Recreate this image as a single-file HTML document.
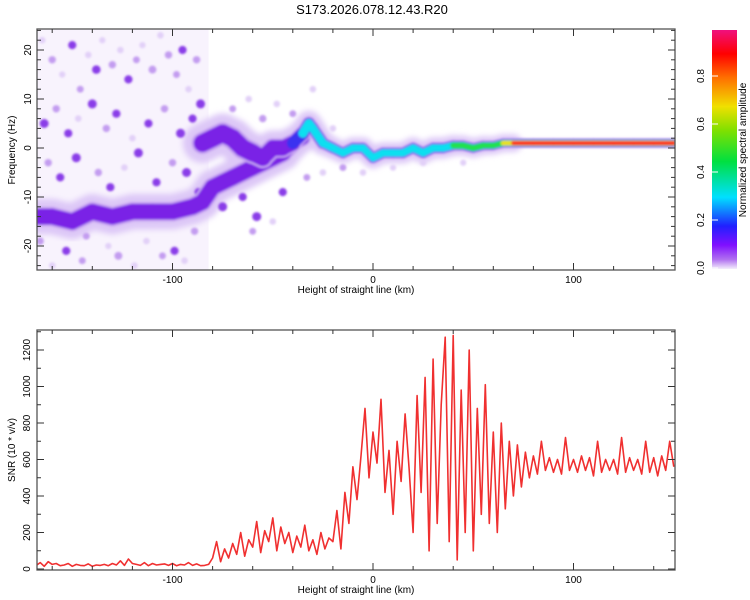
<!DOCTYPE html>
<html><head><meta charset="utf-8"><style>
html,body{margin:0;padding:0;background:#fff;}
svg{display:block;font-family:"Liberation Sans",sans-serif;}
</style></head><body>
<svg id="c" width="750" height="600" viewBox="0 0 750 600">
<defs>
<filter id="bl" x="-20%" y="-20%" width="140%" height="140%"><feGaussianBlur stdDeviation="1.1"/></filter>
<filter id="bl2" x="-20%" y="-20%" width="140%" height="140%"><feGaussianBlur stdDeviation="3"/></filter>
<clipPath id="cp1"><rect x="37" y="29" width="638" height="241"/></clipPath>
<clipPath id="cp2"><rect x="37" y="330" width="638" height="240"/></clipPath>
<linearGradient id="cg" x1="0" y1="1" x2="0" y2="0">
<stop offset="0" stop-color="#f4eefc"/><stop offset="0.04" stop-color="#b070f0"/><stop offset="0.1" stop-color="#8010ff"/>
<stop offset="0.18" stop-color="#2020ff"/><stop offset="0.3" stop-color="#00e0ff"/><stop offset="0.45" stop-color="#00e040"/>
<stop offset="0.58" stop-color="#80e000"/><stop offset="0.68" stop-color="#f0e000"/><stop offset="0.8" stop-color="#ff7000"/>
<stop offset="0.9" stop-color="#ff0000"/><stop offset="1" stop-color="#f0107e"/></linearGradient>
</defs>
<text x="372" y="14" text-anchor="middle" font-size="13">S173.2026.078.12.43.R20</text>
<g id="top"></g>
<g id="bot"></g>
<rect x="712" y="30" width="25" height="239" fill="url(#cg)"/>
<g id="cbl"></g>
<text transform="translate(746,150) rotate(-90)" text-anchor="middle" font-size="10">Normalized spectral amplitude</text>
</svg>
<script>
// ---- data ----
const ridgeKm = [-85,-80,-75,-70,-65,-60,-55,-50,-45,-40,-35,-32,-30,-25,-20,-15,-10,-5,0,5,10,15,20,25,30,35,40,45,50,55,60,65,70,80,90,100,110,120,130,140,150];
const ridgeHz = [1,2,3,2,0,-1,-2,0,0,1,3,5,4,1,0,-1,0,0,-2,-1,-1,-1,0,-1,0,0,0.5,0.5,0,0.5,0.5,1,1,1,1,1,1,1,1,1,1];
const ridgeAmp = [0.28,0.26,0.28,0.27,0.28,0.32,0.28,0.27,0.28,0.32,0.42,0.5,0.55,0.5,0.45,0.5,0.42,0.55,0.42,0.45,0.45,0.4,0.45,0.45,0.5,0.5,0.55,0.55,0.6,0.65,0.6,0.75,0.95,0.95,0.95,0.95,0.95,0.95,0.95,0.95,0.95];
const ridgeSpread = [4.5,4.5,4.5,4.5,4.5,4.5,4,4,4,3.5,3,2.8,2.8,2.6,2.4,2.4,2.4,2.4,2.4,2.4,2.4,2.4,2.4,2.4,2.4,2.4,2.3,2.2,2.2,2.1,2,2,2,2,2,2,2,2,2,2,2];
const lowKm = [-168,-160,-150,-140,-130,-120,-110,-100,-90,-85,-80,-75,-70,-65,-60,-55,-50,-45,-40,-35];
const lowHz = [-14,-14,-15,-13,-14,-13,-13,-13,-12,-11,-8,-7,-6,-5,-4,-3,-2,-1,1,2];
const lowAmp = [0.42,0.28,0.27,0.28,0.28,0.42,0.28,0.27,0.28,0.27,0.28,0.27,0.28,0.27,0.28,0.27,0.28,0.27,0.28,0.3];
const lowSpread = [4,4,4,4,4,4,4,4,4,4,4,4,4,4,4,4,4,4,3.5,3];
const blobKm = [-165,-160,-155,-150,-146,-142,-138,-135,-130,-126,-122,-118,-115,-110,-106,-102,-98,-95,-92,-88,-86,-164,-158,-152,-147,-140,-133,-128,-120,-112,-104,-96,-90,-162,-156,-148,-137,-131,-124,-117,-108,-100,-93,-87,-166,-153,-143,-127,-113,-99,-89,-160,-145,-132,-119,-105,-94,-70,-62,-55,-48,-40,-30,-75,-65,-58,-45,-33,-25,-15,-5,10,25,45,-60,-50,-20];
const blobHz = [22,18,15,21,12,19,16,22,17,20,14,18,21,16,23,19,15,20,12,18,9,5,8,3,6,9,4,7,2,5,8,3,6,-3,-6,-2,-5,-8,-4,-1,-7,-3,-5,-9,-19,-21,-18,-22,-19,-21,-17,-24,-23,-20,-24,-22,-23,8,10,6,9,7,12,-12,-10,-14,-9,-6,-5,-4,-5,-4,-3,-3,-17,-15,4];
const blobAmp = [0.1,0.15,0.08,0.2,0.12,0.1,0.22,0.08,0.15,0.1,0.2,0.12,0.08,0.18,0.1,0.15,0.12,0.2,0.1,0.15,0.25,0.25,0.15,0.2,0.1,0.25,0.15,0.2,0.1,0.2,0.15,0.25,0.2,0.15,0.2,0.25,0.15,0.2,0.1,0.25,0.2,0.15,0.25,0.2,0.15,0.2,0.12,0.18,0.1,0.2,0.15,0.1,0.12,0.08,0.1,0.12,0.1,0.12,0.1,0.15,0.1,0.12,0.1,0.25,0.2,0.25,0.2,0.12,0.1,0.12,0.1,0.08,0.1,0.08,0.12,0.1,0.1];
const snrStart = -168, snrStep = 2;
const snrVals = [20,35,15,40,25,30,18,22,30,15,25,20,18,28,15,22,20,25,18,30,22,45,20,55,30,25,20,35,18,30,22,25,28,20,30,18,25,22,35,20,28,18,20,25,
60,150,40,110,60,140,80,200,70,160,
120,260,90,210,150,280,100,230,140,200,
90,180,120,240,100,160,80,200,110,170,
150,320,110,420,250,560,380,620,880,500,
750,580,930,420,650,300,700,480,850,550,
200,950,420,1050,100,1150,250,900,1270,150,
1280,50,980,200,1200,100,880,300,1010,250,
750,200,800,330,700,400,680,450,640,500,
620,520,700,540,610,530,600,520,720,540,
600,530,620,540,610,510,700,530,600,540,
600,520,720,530,610,540,600,520,700,530,
610,510,620,540,700,560];
const xTicks = [-100,0,100];
const hzTicks = [-20,-10,0,10,20];
const snrTicks = [0,200,400,600,800,1000,1200];
const cbTicks = [0.0,0.2,0.4,0.6,0.8];
// ---- scales ----
const NS="http://www.w3.org/2000/svg";
const X=km=>373+km*2.005;
const YT=hz=>148-hz*4.9;
const YB=v=>569-v*0.1825;
function mk(tag,attrs,parent){const e=document.createElementNS(NS,tag);for(const k in attrs)e.setAttribute(k,attrs[k]);parent.appendChild(e);return e;}
const topG=document.getElementById('top'), botG=document.getElementById('bot');
// spectrogram
const g1=mk('g',{'clip-path':'url(#cp1)'},topG);
mk('rect',{x:X(-168),y:29,width:X(-82)-X(-168),height:241,fill:'#f8f3fd'},g1);
const halo=mk('g',{filter:'url(#bl2)'},g1);
const gb=mk('g',{filter:'url(#bl)'},g1);
function blobColor(a){return a<0.12?'#e2d0f8':a<0.2?'#c39cf0':'#8a3ee8';}
for(let i=0;i<blobKm.length;i++){
  const c=mk('circle',{cx:X(blobKm[i]),cy:YT(blobHz[i]),r:2.5+blobAmp[i]*8,fill:blobColor(blobAmp[i])},gb);
  
  
}
const layers=[[0,'#c7a4f2',1.0],[0.2,'#7a22e6',0.8],[0.3,'#3a30f0',0.75],[0.4,'#10dff0',0.62],[0.55,'#20e050',0.56],[0.7,'#e8e020',0.5],[0.85,'#ff2020',0.42]];
function drawTrack(kms,hzs,amps,sps,name){
  for(let i=0;i<kms.length-1;i++){
    if(amps[i]>0.9) continue;
    const w=(sps[i]+sps[i+1])/2*4.9;
    const hp=mk('line',{x1:X(kms[i]),y1:YT(hzs[i]),x2:X(kms[i+1]),y2:YT(hzs[i+1]),stroke:'#ddc8f7','stroke-width':w*1.8,'stroke-linecap':'round'},halo);
    
    
  }
  for(const [th,col,f] of layers){
    for(let i=0;i<kms.length-1;i++){
      const a=Math.min(amps[i],amps[i+1]);
      if(a<th) continue;
      const w=(sps[i]+sps[i+1])/2*4.9*f;
      const l=mk('line',{x1:X(kms[i]),y1:YT(hzs[i]),x2:X(kms[i+1]),y2:YT(hzs[i+1]),stroke:col,'stroke-width':w,'stroke-linecap':'round'},gb);
      
      
    }
  }
}
drawTrack(lowKm,lowHz,lowAmp,lowSpread,'lower-band');
drawTrack(ridgeKm,ridgeHz,ridgeAmp,ridgeSpread,'main-ridge');
// snr line
const g2=mk('g',{'clip-path':'url(#cp2)'},botG);
let d='';
snrVals.forEach((v,i)=>{d+=(i?'L':'M')+X(snrStart+i*snrStep).toFixed(1)+','+YB(v).toFixed(1);});
const pl=mk('path',{d:d,fill:'none',stroke:'#f03030','stroke-width':1.6,'stroke-linejoin':'round'},g2);


// axes
function frame(parent,y0,y1,name){
  const r=mk('rect',{x:37,y:y0,width:638,height:y1-y0,fill:'none',stroke:'#555','stroke-width':1.3},parent);
  
  
  for(let km=-160;km<=150;km+=20){
    const big=xTicks.includes(km), L=big?7:4;
    mk('line',{x1:X(km),x2:X(km),y1:y1,y2:y1-L,stroke:'#333'},parent);
    mk('line',{x1:X(km),x2:X(km),y1:y0,y2:y0+L,stroke:'#333'},parent);
  }
  xTicks.forEach(t=>{const e=mk('text',{x:X(t),y:y1+13,'text-anchor':'middle','font-size':10},parent);e.textContent=t;
    
    });
  const xt=mk('text',{x:356,y:y1+23,'text-anchor':'middle','font-size':10},parent);
  xt.textContent='Height of straight line (km)';
  
  
}
frame(topG,29,270,'top-plot-frame');
frame(botG,330,570,'bottom-plot-frame');
for(let h=-24;h<=24;h+=2){const big=hzTicks.includes(h);const L=big?7:4;
  mk('line',{x1:37,x2:37+L,y1:YT(h),y2:YT(h),stroke:'#333'},topG);
  mk('line',{x1:675,x2:675-L,y1:YT(h),y2:YT(h),stroke:'#333'},topG);}
hzTicks.forEach(t=>{const e=mk('text',{transform:`translate(31,${YT(t)}) rotate(-90)`,'text-anchor':'middle','font-size':10},topG);e.textContent=t;
  
  });
const yt1=mk('text',{transform:'translate(15,150) rotate(-90)','text-anchor':'middle','font-size':10},topG);
yt1.textContent='Frequency (Hz)';


for(let v=0;v<=1300;v+=100){const big=snrTicks.includes(v);const L=big?7:4;
  mk('line',{x1:37,x2:37+L,y1:YB(v),y2:YB(v),stroke:'#333'},botG);
  mk('line',{x1:675,x2:675-L,y1:YB(v),y2:YB(v),stroke:'#333'},botG);}
snrTicks.forEach(t=>{const e=mk('text',{transform:`translate(30,${YB(t)}) rotate(-90)`,'text-anchor':'middle','font-size':10},botG);e.textContent=t;
  
  });
const yt2=mk('text',{transform:'translate(15,450) rotate(-90)','text-anchor':'middle','font-size':10},botG);
yt2.textContent='SNR (10 * v/v)';


// colorbar labels
const cbl=document.getElementById('cbl');
cbTicks.forEach(t=>{const y=268-t*240;
  mk('line',{x1:712,x2:718,y1:y,y2:y,stroke:'#fff'},cbl);
  const e=mk('text',{transform:`translate(704,${y}) rotate(-90)`,'text-anchor':'middle','font-size':10},cbl);e.textContent=t.toFixed(1);
  
  });
</script>
</body></html>
